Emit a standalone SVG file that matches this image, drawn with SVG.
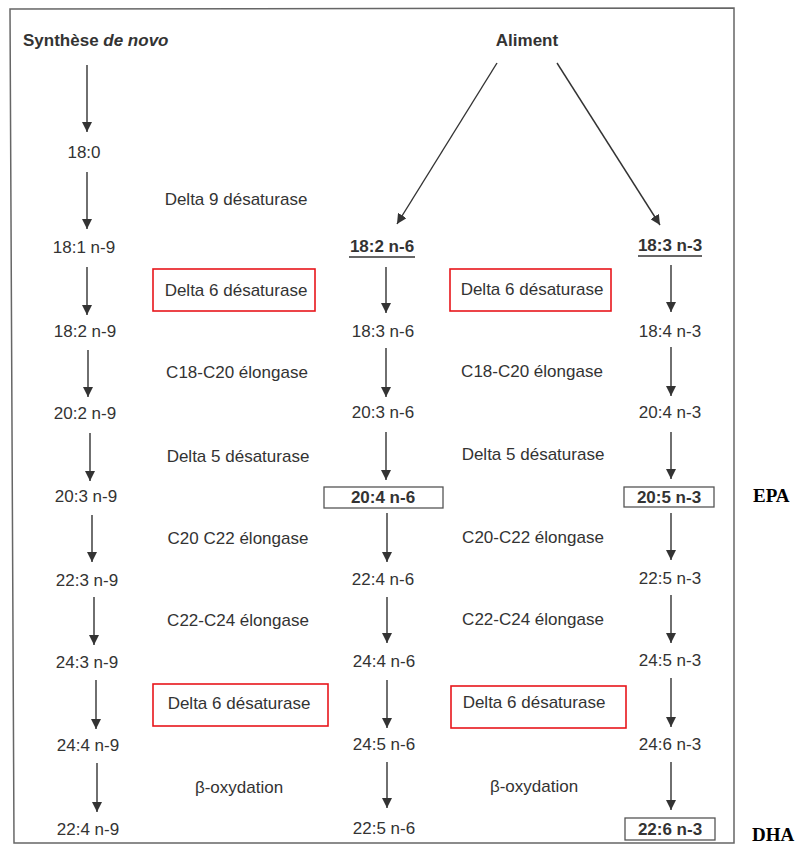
<svg xmlns="http://www.w3.org/2000/svg" width="798" height="845" viewBox="0 0 798 845">
<style>
.t{font-family:"Liberation Sans",Arial,sans-serif;font-size:17px;fill:#333;text-anchor:middle}
.b{font-weight:bold}
.s{text-anchor:start}
.ab{font-family:"Liberation Serif","Times New Roman",serif;font-size:19px;font-weight:bold;fill:#000}
.c line{stroke:#333;stroke-width:1.4;marker-end:url(#ah)}
.red{fill:none;stroke:#e8161b;stroke-width:1.6}
.gb{fill:none;stroke:#555;stroke-width:1.3}
</style>
<defs>
<marker id="ah" viewBox="0 0 10 10" refX="10" refY="5" markerWidth="10" markerHeight="10" markerUnits="userSpaceOnUse" orient="auto">
<path d="M0,0 L10,5 L0,10 z" fill="#333"/>
</marker>
</defs>
<rect width="798" height="845" fill="#fff"/>
<path id="frame" d="M10,9 L734,8 L734,843 L14,843 Z" fill="none" stroke="#666" stroke-width="1.5"/>

<g id="headers">
<text class="t b s" x="23" y="46">Synthèse <tspan font-style="italic">de novo</tspan></text>
<text class="t b" x="527" y="46">Aliment</text>
</g>

<g id="col-n9">
<text class="t" x="84" y="158">18:0</text>
<text class="t" x="84" y="253">18:1 n-9</text>
<text class="t" x="85" y="337">18:2 n-9</text>
<text class="t" x="85" y="419">20:2 n-9</text>
<text class="t" x="86" y="502">20:3 n-9</text>
<text class="t" x="87" y="586">22:3 n-9</text>
<text class="t" x="87" y="668">24:3 n-9</text>
<text class="t" x="88" y="751">24:4 n-9</text>
<text class="t" x="88" y="835">22:4 n-9</text>
</g>

<g id="enz-left">
<text class="t" x="236" y="205">Delta 9 désaturase</text>
<rect class="red" x="153" y="269" width="162" height="42"/>
<text class="t" x="236" y="296">Delta 6 désaturase</text>
<text class="t" x="237" y="378">C18-C20 élongase</text>
<text class="t" x="238" y="462">Delta 5 désaturase</text>
<text class="t" x="238" y="544">C20 C22 élongase</text>
<text class="t" x="238" y="626">C22-C24 élongase</text>
<rect class="red" x="153" y="684" width="175" height="42"/>
<text class="t" x="239" y="709">Delta 6 désaturase</text>
<text class="t" x="239" y="793">β-oxydation</text>
</g>

<g id="col-n6">
<text class="t b" x="382" y="252">18:2 n-6</text>
<line x1="349" y1="257" x2="415" y2="257" stroke="#333" stroke-width="1.5"/>
<text class="t" x="383" y="337">18:3 n-6</text>
<text class="t" x="383" y="418">20:3 n-6</text>
<rect class="gb" x="324" y="487" width="119" height="21"/>
<text class="t b" x="383" y="503">20:4 n-6</text>
<text class="t" x="383" y="585">22:4 n-6</text>
<text class="t" x="384" y="667">24:4 n-6</text>
<text class="t" x="384" y="750">24:5 n-6</text>
<text class="t" x="384" y="834">22:5 n-6</text>
</g>

<g id="enz-right">
<rect class="red" x="450" y="269" width="161" height="42"/>
<text class="t" x="532" y="295">Delta 6 désaturase</text>
<text class="t" x="532" y="377">C18-C20 élongase</text>
<text class="t" x="533" y="460">Delta 5 désaturase</text>
<text class="t" x="533" y="543">C20-C22 élongase</text>
<text class="t" x="533" y="625">C22-C24 élongase</text>
<rect class="red" x="451" y="686" width="175" height="42"/>
<text class="t" x="534" y="708">Delta 6 désaturase</text>
<text class="t" x="534" y="792">β-oxydation</text>
</g>

<g id="col-n3">
<text class="t b" x="670" y="251">18:3 n-3</text>
<line x1="638" y1="256" x2="702" y2="256" stroke="#333" stroke-width="1.5"/>
<text class="t" x="670" y="337">18:4 n-3</text>
<text class="t" x="670" y="418">20:4 n-3</text>
<rect class="gb" x="624" y="487" width="90" height="20"/>
<text class="t b" x="669" y="503">20:5 n-3</text>
<text class="t" x="670" y="584">22:5 n-3</text>
<text class="t" x="670" y="666">24:5 n-3</text>
<text class="t" x="670" y="750">24:6 n-3</text>
<rect class="gb" x="625" y="818" width="90" height="22"/>
<text class="t b" x="670" y="835">22:6 n-3</text>
</g>

<g id="labels">
<text class="ab" x="753" y="502">EPA</text>
<text class="ab" x="752" y="841">DHA</text>
</g>

<g id="connectors" class="c">
<line x1="87" y1="65" x2="87" y2="132"/>
<line x1="87" y1="172" x2="87" y2="229"/>
<line x1="87" y1="267" x2="87" y2="315"/>
<line x1="88" y1="350" x2="88" y2="397"/>
<line x1="90" y1="433" x2="90" y2="481"/>
<line x1="92" y1="515" x2="92" y2="562"/>
<line x1="94" y1="597" x2="94" y2="645"/>
<line x1="96" y1="680" x2="96" y2="729"/>
<line x1="97" y1="763" x2="97" y2="812"/>

<line x1="497" y1="63" x2="397" y2="224"/>
<line x1="557" y1="63" x2="660" y2="225"/>

<line x1="386" y1="267" x2="386" y2="313"/>
<line x1="386" y1="348" x2="386" y2="397"/>
<line x1="386" y1="432" x2="386" y2="480"/>
<line x1="387" y1="513" x2="387" y2="562"/>
<line x1="387" y1="597" x2="387" y2="643"/>
<line x1="387" y1="680" x2="387" y2="728"/>
<line x1="387" y1="762" x2="387" y2="808"/>

<line x1="671" y1="265" x2="671" y2="312"/>
<line x1="671" y1="347" x2="671" y2="396"/>
<line x1="671" y1="432" x2="671" y2="479"/>
<line x1="671" y1="513" x2="671" y2="560"/>
<line x1="671" y1="595" x2="671" y2="643"/>
<line x1="671" y1="678" x2="671" y2="727"/>
<line x1="671" y1="762" x2="671" y2="810"/>
</g>
</svg>
